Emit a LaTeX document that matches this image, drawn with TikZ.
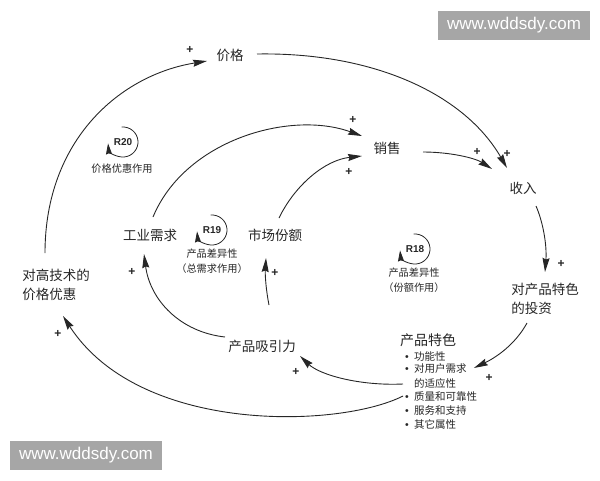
\documentclass[tikz,border=0pt]{standalone}
\usepackage{fontspec}
\setmainfont{Noto Sans CJK SC}
\setsansfont{Liberation Sans}
\newfontfamily\lat{Liberation Sans}
\usetikzlibrary{arrows.meta}
\begin{document}
\begin{tikzpicture}[x=1pt,y=-1pt,
  lab/.style={font=\fontsize{13.5}{19}\selectfont, inner sep=0pt, text=black!85},
  item/.style={font=\fontsize{10.5}{13}\selectfont, inner sep=0pt, text=black!85, anchor=west},
  arr/.style={draw=black!85, line width=0.9pt, -{Stealth[length=14pt,width=7pt,inset=1.5pt]}},
  plus/.style={font=\sffamily\bfseries\fontsize{12}{12}\selectfont, inner sep=0pt, text=black!85},
  loopc/.style={draw=black!85, line width=0.8pt, -{Stealth[length=11pt,width=6pt,inset=1pt]}},
  looptxt/.style={font=\sffamily\bfseries\fontsize{10}{10}\selectfont, inner sep=0pt, text=black!85},
  small/.style={font=\fontsize{10.2}{14.5}\selectfont, inner sep=0pt, align=center, text=black!85},
  wm/.style={fill=black!35, text=white, font=\sffamily\fontsize{17}{17}\selectfont, minimum width=152pt, minimum height=29pt, inner sep=0pt}]
\useasboundingbox (0,0) rectangle (600,480);

% watermarks
\node[wm] (wm1) at (514,25) {www.wddsdy.com};
\node[wm] (wm2) at (86,455) {www.wddsdy.com};

% main nodes
\node[lab] (price) at (230,55) {价格};
\node[lab] (sales) at (387,148) {销售};
\node[lab] (rev) at (523,188) {收入};
\node[lab, align=left] (inv) at (545,299) {对产品特色\\的投资};
\node[lab, align=left] (hp) at (56,285) {对高技术的\\价格优惠};
\node[lab] (attr) at (262,346) {产品吸引力};
\node[lab] (ind) at (150,235) {工业需求};
\node[lab] (share) at (275,235) {市场份额};

% product features block
\node[font=\fontsize{14}{16}\selectfont, inner sep=0pt, text=black!85] (feat) at (428,340) {产品特色};
\node[item] (f1) at (405,356) {\makebox[9pt][l]{\lat •}功能性};
\node[item] (f2) at (405,369) {\makebox[9pt][l]{\lat •}对用户需求};
\node[item] (f3) at (414,383) {的适应性};
\node[item] (f4) at (405,397) {\makebox[9pt][l]{\lat •}质量和可靠性};
\node[item] (f5) at (405,411) {\makebox[9pt][l]{\lat •}服务和支持};
\node[item] (f6) at (405,424) {\makebox[9pt][l]{\lat •}其它属性};

% loops
\node[looptxt] (r20) at (123,142) {R20};
\draw[loopc] ([shift={(-95:15)}]r20.center) arc[start angle=-95, end angle=175, radius=15];
\node[small] (r20l) at (122,169) {价格优惠作用};

\node[looptxt] (r19) at (212,230) {R19};
\draw[loopc] ([shift={(-95:15)}]r19.center) arc[start angle=-95, end angle=175, radius=15];
\node[small] (r19l) at (212,261) {产品差异性\\（总需求作用）};

\node[looptxt] (r18) at (415,249) {R18};
\draw[loopc] ([shift={(-95:15)}]r18.center) arc[start angle=-95, end angle=175, radius=15];
\node[small] (r18l) at (414,280) {产品差异性\\（份额作用）};

% connectors
\draw[arr] ([shift={(-11,-32)}]hp.center) .. controls (45,140) and (120,75) .. ([shift={(-23,6)}]price.center);
\draw[arr] ([shift={(27,-1)}]price.center) .. controls (375,52) and (465,95) .. ([shift={(-16,-20)}]rev.center);
\draw[arr] ([shift={(36,4)}]sales.center) .. controls (450,152) and (475,158) .. ([shift={(-31,-19)}]rev.center);
\draw[arr] ([shift={(3,-18)}]ind.center) .. controls (185,140) and (290,110) .. ([shift={(-25,-12)}]sales.center);
\draw[arr] ([shift={(4,-17)}]share.center) .. controls (295,185) and (325,160) .. ([shift={(-25,8)}]sales.center);
\draw[arr] ([shift={(13,18)}]rev.center) .. controls (543,222) and (547,245) .. ([shift={(0,-27)}]inv.center);
\draw[arr] ([shift={(-18,24)}]inv.center) .. controls (515,345) and (495,358) .. ([shift={(7,-1)}]f2.east);
\draw[arr] ([shift={(-11,1)}]f3.west) .. controls (360,386) and (320,375) .. ([shift={(38,10)}]attr.center);
\draw[arr] ([shift={(-37,-9)}]attr.center) .. controls (180,332) and (150,300) .. ([shift={(-6,19)}]ind.center);
\draw[arr] ([shift={(7,-41)}]attr.center) .. controls (266,290) and (265,275) .. ([shift={(-9,23)}]share.center);
\draw[arr] ([shift={(-2,-1)}]f4.west) .. controls (340,428) and (140,435) .. ([shift={(7,31)}]hp.center);

% plus signs
\node[plus] (p1) at (190,50) {+};
\node[plus] (p2) at (353,120) {+};
\node[plus] (p3) at (349,172) {+};
\node[plus] (p4) at (477,152) {+};
\node[plus] (p5) at (507,154) {+};
\node[plus] (p6) at (561,264) {+};
\node[plus] (p7) at (489,378) {+};
\node[plus] (p8) at (296,372) {+};
\node[plus] (p9) at (132,272) {+};
\node[plus] (p10) at (275,273) {+};
\node[plus] (p11) at (58,334) {+};
\end{tikzpicture}
\end{document}
